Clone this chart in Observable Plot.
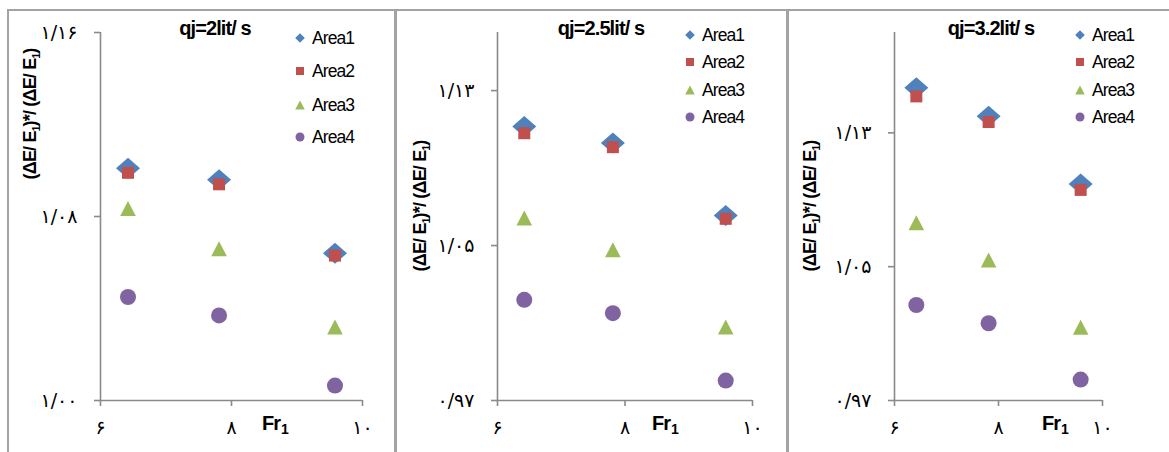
<!DOCTYPE html>
<html><head><meta charset="utf-8">
<script src="https://cdn.jsdelivr.net/npm/d3@7"></script>
<script src="https://cdn.jsdelivr.net/npm/@observablehq/plot@0.6"></script>
<style>
body{margin:0;background:#fff;}
#wrap{position:relative;width:1169px;height:452px;overflow:hidden;background:#fff;}
.panel{position:absolute;top:9px;height:470px;border:2px solid #a3a3a3;box-sizing:border-box;}
.plot{position:absolute;top:0;}
.plot g[aria-label$="tick label"] text{letter-spacing:2px;}
#overlay{position:absolute;left:0;top:0;pointer-events:none;}
</style>
</head><body>
<div id="wrap"></div>
<script>
// ---------- data ----------
const areas = ["Area1", "Area2", "Area3", "Area4"];
const colors = ["#4F81BD", "#C0504D", "#9BBB59", "#8064A2"];
const titles = ["qj=2lit/ s", "qj=2.5lit/ s", "qj=3.2lit/ s"];
const fr = [6.42, 7.81, 9.58];

const xTicks = [6, 8, 10];
const xTickLabels = ["۶", "۸", "۱۰"];

// panel 1 : qj = 2 lit/s
const p1Area1 = [1.101, 1.096, 1.064];
const p1Area2 = [1.099, 1.094, 1.063];
const p1Area3 = [1.0835, 1.066, 1.032];
const p1Area4 = [1.045, 1.037, 1.0065];
const p1YDomain = [1.00, 1.16];
const p1YTicks = [1.00, 1.08, 1.16];
const p1YTickLabels = ["۱/۰۰", "۱/۰۸", "۱/۱۶"];

// panel 2 : qj = 2.5 lit/s
const p2Area1 = [1.1115, 1.103, 1.0655];
const p2Area2 = [1.108, 1.1008, 1.0638];
const p2Area3 = [1.0642, 1.0478, 1.008];
const p2Area4 = [1.022, 1.0151, 0.9803];
const p2YDomain = [0.97, 1.16];
const p2YTicks = [0.97, 1.05, 1.13];
const p2YTickLabels = ["۰/۹۷", "۱/۰۵", "۱/۱۳"];

// panel 3 : qj = 3.2 lit/s
const p3Area1 = [1.157, 1.140, 1.0995];
const p3Area2 = [1.1518, 1.1365, 1.0959];
const p3Area3 = [1.0762, 1.054, 1.0138];
const p3Area4 = [1.0271, 1.0162, 0.9825];
const p3YDomain = [0.97, 1.19];
const p3YTicks = [0.97, 1.05, 1.13];
const p3YTickLabels = ["۰/۹۷", "۱/۰۵", "۱/۱۳"];

// ---------- layout ----------
const axisColor = "#8a8a8a";
const panels = [
  {series:[p1Area1,p1Area2,p1Area3,p1Area4], yDomain:p1YDomain, yTicks:p1YTicks, yLabels:p1YTickLabels,
   left:0, w:393, ml:100, mr:31, box:[7,396], legX:300, legY:[38,71,105,137], ylabY:114},
  {series:[p2Area1,p2Area2,p2Area3,p2Area4], yDomain:p2YDomain, yTicks:p2YTicks, yLabels:p2YTickLabels,
   left:393, w:393, ml:104, mr:34, box:[395,788], legX:690, legY:[35,62,90,117], ylabY:206},
  {series:[p3Area1,p3Area2,p3Area3,p3Area4], yDomain:p3YDomain, yTicks:p3YTicks, yLabels:p3YTickLabels,
   left:786, w:383, ml:108, mr:67, box:[787,1180], legX:1080, legY:[35,62,90,117], ylabY:206}
];

// custom marker shapes (Excel-like)
function diamond(hw, hh){return {draw(c){c.moveTo(0,-hh);c.lineTo(hw,0);c.lineTo(0,hh);c.lineTo(-hw,0);c.closePath();}};}
function square(h){return {draw(c){c.rect(-h,-h,2*h,2*h);}};}
function triangle(hw, hh){return {draw(c){c.moveTo(0,-hh);c.lineTo(hw,hh);c.lineTo(-hw,hh);c.closePath();}};}
function circle(r){return {draw(c){c.moveTo(r,0);c.arc(0,0,r,0,2*Math.PI);}};}
const bigSymbols = [diamond(12,10.5), square(6), triangle(7.8,7.5), circle(8)];
const smallSymbols = [diamond(4.8,4.8), square(4), triangle(4.8,4.5), circle(4.5)];

const wrap = document.getElementById("wrap");

panels.forEach((p) => {
  const box = document.createElement("div");
  box.className = "panel";
  box.style.left = p.box[0] + "px";
  box.style.width = (p.box[1] - p.box[0]) + "px";
  wrap.appendChild(box);
});

panels.forEach((p) => {
  const rows = [];
  p.series.forEach((vals, si) => vals.forEach((v, k) => rows.push({area: areas[si], fr: fr[k], v})));
  const chart = Plot.plot({
    width: p.w, height: 452,
    marginLeft: p.ml, marginRight: p.mr, marginTop: 32, marginBottom: 52,
    x: {domain: [6, 10]},
    y: {domain: p.yDomain},
    style: {background: "transparent", fontFamily: "'DejaVu Sans', sans-serif", color: "black"},
    marks: [
      Plot.ruleY([p.yDomain[0]], {stroke: axisColor, strokeWidth: 1.6}),
      Plot.ruleX([6], {stroke: axisColor, strokeWidth: 1.6}),
      Plot.axisX({ticks: xTicks, tickFormat: d => xTickLabels[xTicks.indexOf(d)], tickSize: 6, tickPadding: 14,
                  stroke: axisColor, strokeWidth: 1.6, fill: "black", fontSize: 19, label: null}),
      Plot.axisY({ticks: p.yTicks, tickFormat: d => p.yLabels[p.yTicks.indexOf(d)], tickSize: 6, tickPadding: 17,
                  stroke: axisColor, strokeWidth: 1.6, fill: "black", fontSize: 19, label: null}),
      ...areas.map((a, si) => Plot.dot(rows.filter(r => r.area === a),
        {x: "fr", y: "v", symbol: bigSymbols[si], r: 8, fill: colors[si], stroke: "none"}))
    ]
  });
  chart.classList.add("plot");
  chart.style.left = p.left + "px";
  wrap.appendChild(chart);
});

// ---------- text overlay: titles, axis titles, legends ----------
const svg = d3.select(wrap).append("svg").attr("id","overlay").attr("width",1169).attr("height",452)
  .style("font-family","'Liberation Sans', Arial, sans-serif");
const titleX = [215, 601, 991];
const frX = [262, 652, 1042];
const ylabX = [30, 420, 810];
panels.forEach((p, pi) => {
  svg.append("text").attr("x", titleX[pi]).attr("y", 35).attr("text-anchor","middle")
    .attr("font-weight","bold").attr("font-size",20).attr("letter-spacing",-0.9).text(titles[pi]);
  const fx = svg.append("text").attr("x", frX[pi]).attr("y", 430).attr("font-weight","bold")
    .attr("font-size",20).attr("letter-spacing",-1);
  fx.append("tspan").text("Fr");
  fx.append("tspan").attr("font-size",14).attr("dy",4).attr("dx",1).text("1");
  const yl = svg.append("text").attr("transform",`translate(${ylabX[pi]},${p.ylabY}) rotate(-90)`)
    .attr("text-anchor","middle").attr("dy","0.35em").attr("font-weight","bold").attr("font-size",18).attr("letter-spacing",-0.8);
  yl.append("tspan").text("(ΔE/ E");
  yl.append("tspan").attr("font-size",10).attr("dy",4).text("1");
  yl.append("tspan").attr("dy",-4).text(")*/ (ΔE/ E");
  yl.append("tspan").attr("font-size",10).attr("dy",4).text("1");
  yl.append("tspan").attr("dy",-4).text(")");
  areas.forEach((a, si) => {
    const y = p.legY[si];
    svg.append("path").attr("transform",`translate(${p.legX},${y})`)
      .attr("d", d3.symbol(smallSymbols[si])()).attr("fill", colors[si]);
    svg.append("text").attr("x", p.legX + 12).attr("y", y + 6).attr("font-size",17.5).attr("letter-spacing",-0.9).text(a);
  });
});
</script>
</body></html>
